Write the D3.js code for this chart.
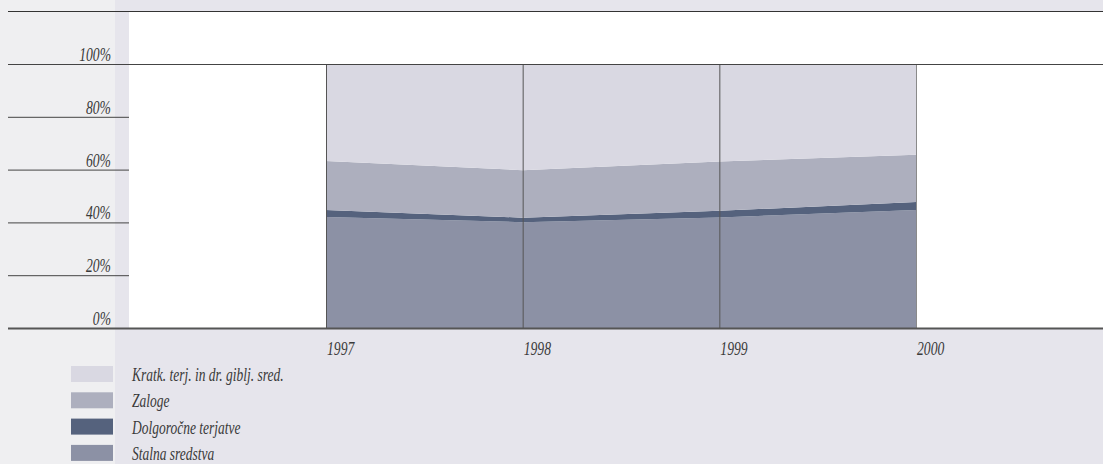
<!DOCTYPE html>
<html>
<head>
<meta charset="utf-8">
<script src="https://cdn.jsdelivr.net/npm/d3@7"></script>
<style>
  html, body { margin: 0; padding: 0; background: #e6e5ec; }
  svg { display: block; }
</style>
</head>
<body>
<svg id="chart" width="1103" height="464"></svg>
<script>
const years = [1997, 1998, 1999, 2000]
const seriesNames = ['Stalna sredstva', 'Dolgoročne terjatve', 'Zaloge', 'Kratk. terj. in dr. giblj. sred.']
const stalna = [42.0, 40.1, 41.9, 44.7]
const dolgorocne = [2.7, 1.7, 2.5, 3.0]
const zaloge = [18.6, 18.0, 18.7, 17.9]
const kratke = [36.7, 40.2, 36.9, 34.4]
const yTicks = [0, 20, 40, 60, 80, 100]
const colors = ['#8c91a5', '#55627d', '#adafbe', '#d9d8e2']

const svg = d3.select('#chart')
const W = 1103
const H = 464
const FONT = "'Liberation Serif', 'DejaVu Serif', serif"

// ozadje
svg.append('rect').attr('width', W).attr('height', H).attr('fill', '#e6e5ec')
svg.append('rect').attr('width', 115).attr('height', H).attr('fill', '#efeff1')
svg.append('rect').attr('x', 129).attr('y', 11).attr('width', W - 129).attr('height', 317).attr('fill', '#fff')

const x = d3.scaleLinear().domain([1997, 2000]).range([326, 916])
const y = d3.scaleLinear().domain([0, 100]).range([328, 64])

const table = years.map((yr, i) => ({
  year: yr,
  s0: stalna[i], s1: dolgorocne[i], s2: zaloge[i], s3: kratke[i],
}))
const stack = d3.stack().keys(['s0', 's1', 's2', 's3'])(table)

const area = d3.area()
  .x(d => x(d.data.year))
  .y0(d => y(d[0]))
  .y1(d => y(d[1]))

svg.append('g')
  .selectAll('path')
  .data(stack)
  .enter()
  .append('path')
  .attr('d', area)
  .attr('fill', (d, i) => colors[i])

// navpične črte
svg.append('g')
  .selectAll('line')
  .data(years)
  .enter()
  .append('line')
  .attr('x1', d => x(d) + 0.5)
  .attr('x2', d => x(d) + 0.5)
  .attr('y1', y(100))
  .attr('y2', y(0))
  .attr('stroke', (d, i) => i === years.length - 1 ? '#8a8a8a' : '#555')
  .attr('stroke-width', 1)

// vodoravne črte
svg.append('line')
  .attr('x1', 8).attr('x2', W).attr('y1', 11.5).attr('y2', 11.5)
  .attr('stroke', '#333').attr('stroke-width', 1)
svg.append('g')
  .selectAll('line')
  .data(yTicks)
  .enter()
  .append('line')
  .attr('x1', 8)
  .attr('x2', d => (d === 100 || d === 0) ? W : 129)
  .attr('y1', d => y(d) + 0.5)
  .attr('y2', d => y(d) + 0.5)
  .attr('stroke', d => d === 0 ? '#555' : '#444')
  .attr('stroke-width', d => d === 0 ? 2 : 1)

function label(sel, size) {
  return sel
    .attr('font-family', FONT)
    .attr('font-style', 'italic')
    .attr('font-size', size)
    .attr('fill', '#3a3a3a')
}

// oznake osi y
svg.append('g')
  .selectAll('text')
  .data(yTicks)
  .enter()
  .append('text')
  .call(label, 19.5)
  .attr('text-anchor', 'end')
  .attr('transform', d => `translate(111, ${y(d) - 3}) scale(0.7, 1)`)
  .text(d => `${d}%`)

// oznake osi x
svg.append('g')
  .selectAll('text')
  .data(years)
  .enter()
  .append('text')
  .call(label, 19.5)
  .attr('transform', d => `translate(${x(d) + 1}, 355) scale(0.7, 1)`)
  .text(d => d)

// legenda
const legendOrder = [3, 2, 1, 0]
const legend = svg.append('g')
  .selectAll('g')
  .data(legendOrder)
  .enter()
  .append('g')
  .attr('transform', (d, i) => `translate(71, ${366 + i * 26.3})`)
legend.append('rect')
  .attr('width', 42)
  .attr('height', 16)
  .attr('fill', d => colors[d])
legend.append('text')
  .call(label, 19)
  .attr('transform', 'translate(61, 15) scale(0.71, 1)')
  .text(d => seriesNames[d])
</script>
</body>
</html>
